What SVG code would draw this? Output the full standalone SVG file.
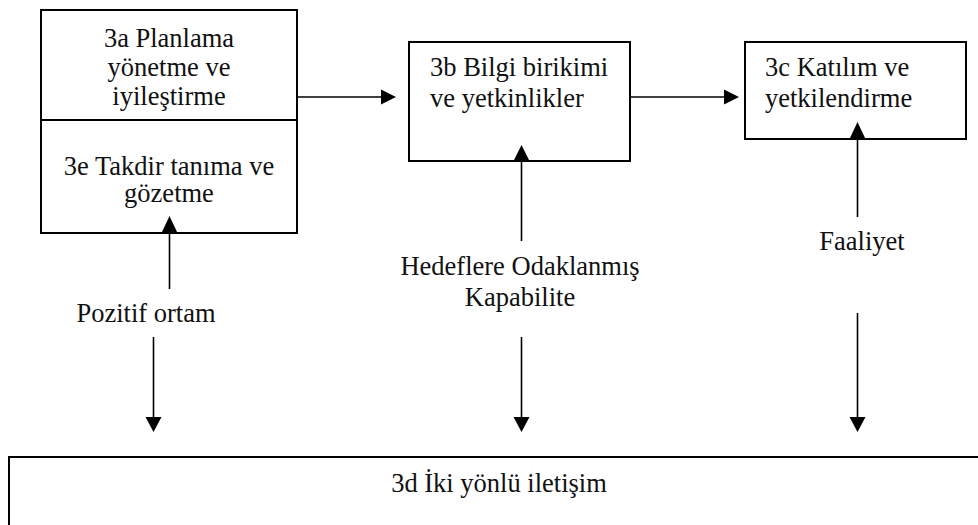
<svg xmlns="http://www.w3.org/2000/svg" width="978" height="525" viewBox="0 0 978 525">
  <style>
    .box { fill: #ffffff; stroke: #000000; stroke-width: 2; }
    .line { stroke: #000000; stroke-width: 1.6; fill: none; }
    .head { fill: #000000; }
    text { font-size: 26.5px; fill: #111111; }
    .c { text-anchor: middle; }
  </style>
  <rect width="978" height="525" fill="#ffffff"/>

  <g font-family="Liberation Serif, Times New Roman, Tinos, DejaVu Serif, serif">
  <!-- 3a / 3e combined box -->
  <g id="node-3a-3e">
    <rect class="box" x="41" y="10" width="256" height="223"/>
    <line class="box" x1="41" y1="120" x2="297" y2="120"/>
    <text class="c" x="169" y="47">3a Planlama</text>
    <text class="c" x="169" y="76">yönetme ve</text>
    <text class="c" x="169" y="105">iyileştirme</text>
    <text class="c" x="169" y="175">3e Takdir tanıma ve</text>
    <text class="c" x="169" y="202">gözetme</text>
  </g>

  <!-- 3b -->
  <g id="node-3b">
    <rect class="box" x="409" y="42" width="221" height="119"/>
    <text x="430" y="76">3b Bilgi birikimi</text>
    <text x="430" y="107">ve yetkinlikler</text>
  </g>

  <!-- 3c -->
  <g id="node-3c">
    <rect class="box" x="745" y="42" width="221" height="97"/>
    <text x="765" y="76">3c Katılım ve</text>
    <text x="765" y="107">yetkilendirme</text>
  </g>

  <!-- 3d (runs off the lower right edge) -->
  <g id="node-3d">
    <rect class="box" x="9" y="457" width="990" height="100"/>
    <text class="c" x="499" y="492">3d İki yönlü iletişim</text>
  </g>

  <!-- free labels -->
  <g id="label-pozitif">
    <text class="c" x="146" y="322">Pozitif ortam</text>
  </g>
  <g id="label-hedef">
    <text class="c" x="520" y="275">Hedeflere Odaklanmış</text>
    <text class="c" x="520" y="306">Kapabilite</text>
  </g>
  <g id="label-faaliyet">
    <text class="c" x="862" y="250">Faaliyet</text>
  </g>
  </g>

  <!-- connectors -->
  <g id="connectors">
    <!-- 3a -> 3b -->
    <line class="line" x1="297" y1="97" x2="382" y2="97"/>
    <polygon class="head" points="396,97 381,89.5 381,104.5"/>
    <!-- 3b -> 3c -->
    <line class="line" x1="630" y1="97" x2="725" y2="97"/>
    <polygon class="head" points="739,97 724,89.5 724,104.5"/>

    <!-- upward arrows into boxes -->
    <line class="line" x1="169.5" y1="289" x2="169.5" y2="232"/>
    <polygon class="head" points="169.5,216 161.5,233 177.5,233"/>
    <line class="line" x1="521.5" y1="241" x2="521.5" y2="160"/>
    <polygon class="head" points="521.5,145 513.5,161 529.5,161"/>
    <line class="line" x1="857.5" y1="217" x2="857.5" y2="138"/>
    <polygon class="head" points="857.5,122 849.5,139 865.5,139"/>

    <!-- downward arrows toward 3d -->
    <line class="line" x1="153.5" y1="337" x2="153.5" y2="418"/>
    <polygon class="head" points="153.5,432 145.5,417 161.5,417"/>
    <line class="line" x1="521.5" y1="337" x2="521.5" y2="418"/>
    <polygon class="head" points="521.5,432 513.5,417 529.5,417"/>
    <line class="line" x1="857.5" y1="313" x2="857.5" y2="418"/>
    <polygon class="head" points="857.5,432 849.5,417 865.5,417"/>
  </g>
</svg>
